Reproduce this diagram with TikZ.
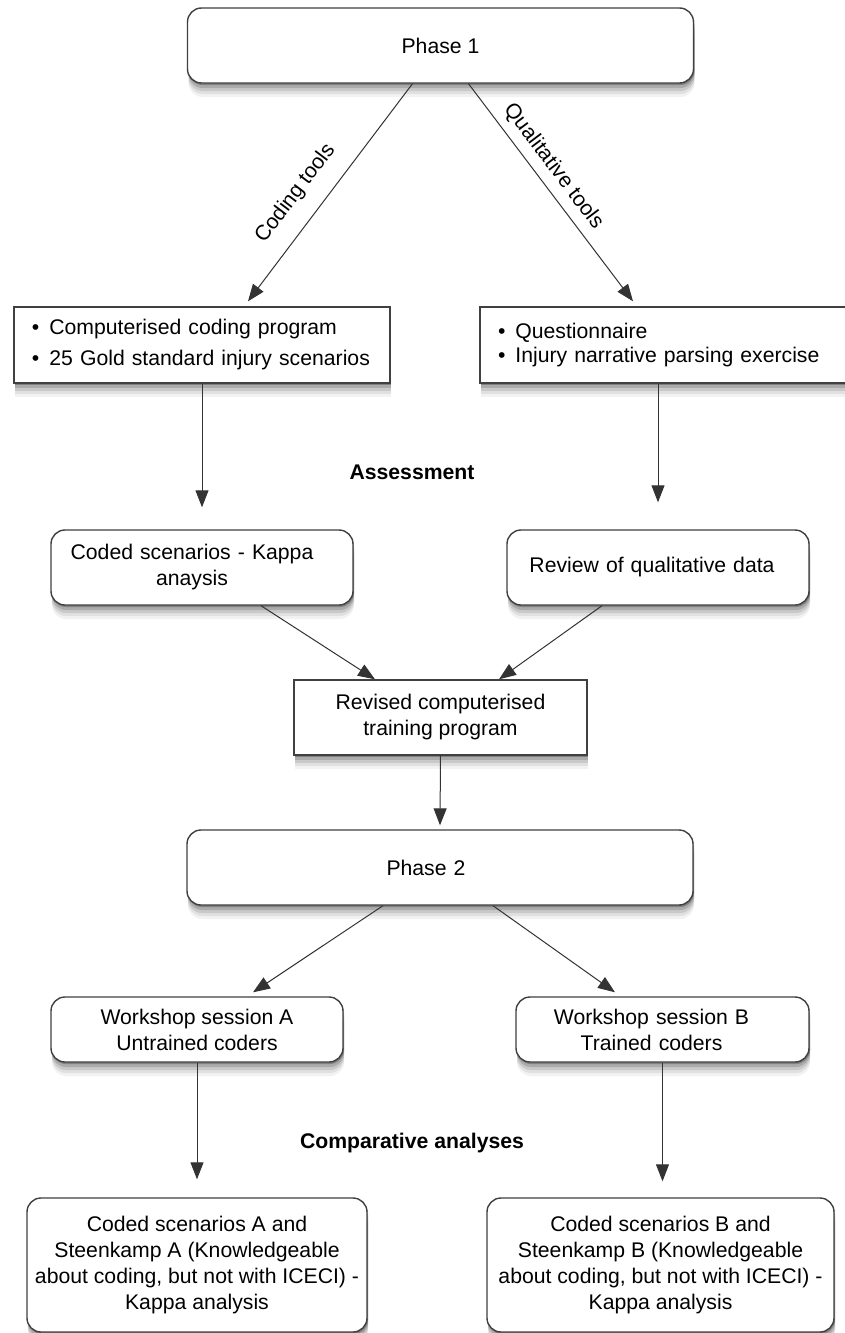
\documentclass[tikz,border=0pt]{standalone}
\usepackage{fontspec}
\setmainfont{Liberation Sans}
\usetikzlibrary{arrows.meta,shadows,calc}
\begin{document}
\begin{tikzpicture}[x=0.5pt,y=-0.5pt,
  softshadow/.style={
    general shadow={shadow xshift=0.5pt,shadow yshift=-7pt,fill=black,opacity=0.05},
    general shadow={shadow xshift=0.5pt,shadow yshift=-5.5pt,fill=black,opacity=0.07},
    general shadow={shadow xshift=0.5pt,shadow yshift=-4pt,fill=black,opacity=0.1},
    general shadow={shadow xshift=0.5pt,shadow yshift=-2.5pt,fill=black,opacity=0.15},
    general shadow={shadow xshift=0.5pt,shadow yshift=-1pt,fill=black,opacity=0.25}},
  txt/.style={font=\fontsize{10.6pt}{13pt}\selectfont},
  basebox/.style={draw=black!75, line width=0.7pt, fill=white, softshadow, txt, inner sep=0pt, align=center},
  rbox/.style={basebox, rounded corners=7pt},
  sbox/.style={basebox},
  arr/.style={draw=black!80, line width=0.5pt, -{Triangle[length=8.5pt,width=6.5pt]}},
  head/.style={font=\fontsize{10.6pt}{13pt}\selectfont\bfseries}
]
\useasboundingbox (0,0) rectangle (845,1333);
\fill[white] (0,0) rectangle (845,1333);

% boxes
\node[rbox, minimum width=253pt, minimum height=37.5pt] (p1) at (440.5,45.5) {Phase 1};
\node[sbox, minimum width=188pt, minimum height=38pt, text width=170pt, align=left] (cl) at (202,345)
  {\textbullet\hspace{5pt}Computerised coding program\\[2.5pt]\textbullet\hspace{5pt}25 Gold standard injury scenarios};
\node[sbox, minimum width=183pt, minimum height=38pt, text width=165pt, align=left] (ql) at (663,345)
  {\textbullet\hspace{5pt}Questionnaire\\[-1pt]\textbullet\hspace{5pt}Injury narrative parsing exercise};
\node[rbox, minimum width=151pt, minimum height=37.5pt, text width=151pt] (cs) at (202,567.5)
  {\hspace*{-10pt}Coded scenarios - Kappa\\\hspace*{-10pt}anaysis};
\node[rbox, minimum width=151pt, minimum height=37.5pt, text width=151pt] (rv) at (658,567.5)
  {\hspace*{-6pt}Review of qualitative data};
\node[sbox, minimum width=146.5pt, minimum height=37.5pt] (rt) at (440.5,717.5) {Revised computerised\\training program};
\node[rbox, minimum width=253pt, minimum height=37.5pt, text width=253pt] (p2) at (440,867.5) {\hspace*{-14pt}Phase 2};
\node[rbox, minimum width=146pt, minimum height=32.5pt] (wa) at (197,1029.5) {Workshop session A\\Untrained coders};
\node[rbox, minimum width=146.5pt, minimum height=32.5pt, text width=146.5pt] (wb) at (662.5,1029.5)
  {\hspace*{-11pt}Workshop session B\\\hspace*{-11pt}Trained coders};
\node[rbox, minimum width=170pt, minimum height=67pt] (ca) at (197,1265)
  {Coded scenarios A and\\Steenkamp A (Knowledgeable\\about coding, but not with ICECI) -\\Kappa analysis};
\node[rbox, minimum width=173.5pt, minimum height=67pt] (cb) at (660.5,1265)
  {Coded scenarios B and\\Steenkamp B (Knowledgeable\\about coding, but not with ICECI) -\\Kappa analysis};

% headings
\node[head] (as) at (412,472) {Assessment};
\node[head] (cmp) at (412,1143) {Comparative analyses};

% connectors
\draw[arr] ([xshift=-14pt]p1.south) -- node[txt, sloped, above=5pt, pos=0.58] {Coding tools} ([xshift=23pt,yshift=2.5pt]cl.north);
\draw[arr] ([xshift=14pt]p1.south) -- node[txt, sloped, above=0.5pt, pos=0.43] {Qualitative tools} ([xshift=-15pt,yshift=2.5pt]ql.north);
\draw[arr] (cl.south) -- ($(cs.north)+(0,11pt)$);
\draw[arr] (rv.north |- ql.south) -- ($(rv.north)+(0,13.5pt)$);
\draw[arr] ([xshift=29.5pt]cs.south) -- ([xshift=-32.75pt]rt.north);
\draw[arr] ([xshift=-28pt]rv.south) -- ([xshift=29.25pt]rt.north);
\draw[arr] (rt.south) -- ($(p2.north)+(0,2pt)$);
\draw[arr] ([xshift=-28.5pt]p2.south) -- ([xshift=28pt,yshift=2pt]wa.north);
\draw[arr] ([xshift=26.5pt]p2.south) -- ([xshift=-23.75pt,yshift=2pt]wb.north);
\draw[arr] (wa.south) -- ($(ca.north)+(0,9pt)$);
\draw[arr] (wb.south) -- ($(wb.south |- cb.north)+(0,8pt)$);
\end{tikzpicture}
\end{document}
